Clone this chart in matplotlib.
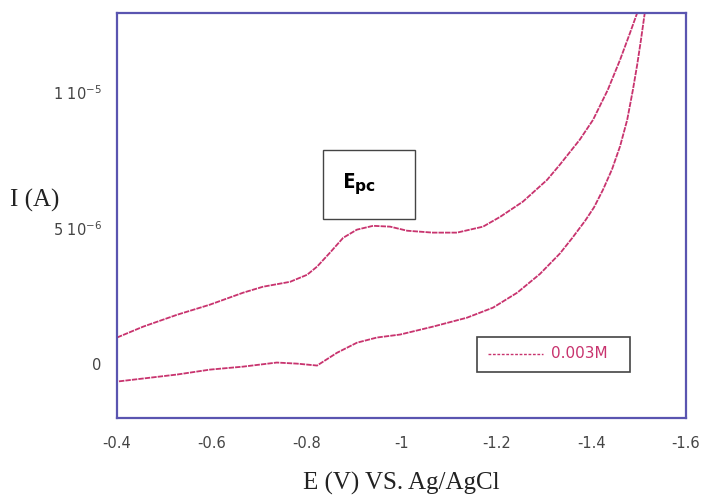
import matplotlib

matplotlib.use("Agg")

import matplotlib.pyplot as plt
from matplotlib.patches import Rectangle
from matplotlib.lines import Line2D
import numpy as np

# cathodic sweep (forward), potential in V and current in uA
E_FWD = [-0.400, -0.455, -0.527, -0.596, -0.666, -0.708, -0.765, -0.801, -0.822,
         -0.849, -0.877, -0.906, -0.940, -0.976, -1.012, -1.066, -1.117, -1.172,
         -1.208, -1.256, -1.307, -1.334, -1.376, -1.404, -1.435, -1.461, -1.482, -1.497]
I_FWD = [0.96, 1.36, 1.80, 2.17, 2.61, 2.83, 3.01, 3.27, 3.57,
         4.08, 4.63, 4.93, 5.07, 5.04, 4.89, 4.82, 4.82, 5.04,
         5.40, 5.96, 6.76, 7.32, 8.24, 8.97, 10.07, 11.18, 12.17, 12.90]

# switching region above the plotted current range
E_TURN = [-1.507]
I_TURN = [14.0]

# return sweep
E_REV = [-1.513, -1.505, -1.497, -1.488, -1.476, -1.461, -1.444, -1.425, -1.406,
         -1.387, -1.360, -1.334, -1.292, -1.244, -1.193, -1.138, -1.066, -0.997,
         -0.948, -0.906, -0.864, -0.822, -0.780, -0.737, -0.666, -0.596, -0.527, -0.400]
I_REV = [12.90, 11.91, 10.99, 10.07, 8.97, 8.00, 7.15, 6.40, 5.75,
         5.25, 4.62, 4.05, 3.30, 2.61, 2.06, 1.69, 1.36, 1.07,
         0.96, 0.77, 0.40, -0.07, 0.00, 0.04, -0.11, -0.22, -0.40, -0.66]

X_TICKS = [-0.4, -0.6, -0.8, -1.0, -1.2, -1.4, -1.6]
X_TICK_LABELS = ["-0.4", "-0.6", "-0.8", "-1", "-1.2", "-1.4", "-1.6"]
Y_TICKS = [0, 5e-6, 1e-5]
Y_TICK_LABELS = ["0", r"5 10$^{\mathregular{-6}}$", r"1 10$^{\mathregular{-5}}$"]

CURVE_COLOR = "#c8336e"
FRAME_COLOR = "#5a55b0"
W, H = 711, 495


def fx(px):
    return px / W


def fy(py):
    return 1 - py / H


def main() -> None:
    fig = plt.figure(figsize=(W / 100, H / 100), dpi=100)
    ax = fig.add_axes([fx(117), fy(418), (686 - 117) / W, (418 - 13) / H])

    e = np.array(E_FWD + E_TURN + E_REV)
    i = np.array(I_FWD + I_TURN + I_REV) * 1e-6
    ax.plot(e, i, color=CURVE_COLOR, linewidth=1.3, linestyle=(0, (3, 0.6)))

    ax.set_xlim(-0.4, -1.6)
    ax.set_ylim(-2e-6, 12.9e-6)

    ax.set_xticks(X_TICKS)
    ax.set_xticklabels(X_TICK_LABELS, family="DejaVu Sans", fontsize=10.5, color="#444444")
    ax.set_yticks(Y_TICKS)
    ax.set_yticklabels(Y_TICK_LABELS, family="DejaVu Sans", fontsize=10.5, color="#444444")
    ax.tick_params(axis="x", length=0, pad=13)
    ax.tick_params(axis="y", length=0, pad=11)

    for spine in ax.spines.values():
        spine.set_color(FRAME_COLOR)
        spine.set_linewidth(1.6)

    fig.text(fx(401), fy(490), "E (V) VS. Ag/AgCl", family="Liberation Serif",
             fontsize=18, color="#222222", ha="center", va="baseline")
    fig.text(fx(10), fy(207), "I (A)", family="Liberation Serif",
             fontsize=18, color="#222222", ha="left", va="baseline")

    # annotation box for the cathodic peak
    fig.patches.append(Rectangle((fx(323), fy(219)), 92 / W, 69 / H,
                                 transform=fig.transFigure, fill=False,
                                 edgecolor="#444444", linewidth=1.0))
    fig.text(fx(342), fy(188), r"E$_{\mathbf{pc}}$", family="Open Sans",
             fontsize=16, fontweight="bold", color="black", ha="left", va="baseline")

    # legend box
    fig.patches.append(Rectangle((fx(477), fy(372)), 153 / W, 35 / H,
                                 transform=fig.transFigure, fill=False,
                                 edgecolor="#444444", linewidth=1.2))
    fig.lines.append(Line2D([fx(488), fx(543)], [fy(354), fy(354)],
                            transform=fig.transFigure, color=CURVE_COLOR,
                            linewidth=1.0, linestyle=(0, (2, 1.2))))
    fig.text(fx(551), fy(354), "0.003M", family="DejaVu Sans",
             fontsize=11, color=CURVE_COLOR, ha="left", va="center")

    fig.savefig("out.png", dpi=100)
    plt.close(fig)


if __name__ == "__main__":
    main()
